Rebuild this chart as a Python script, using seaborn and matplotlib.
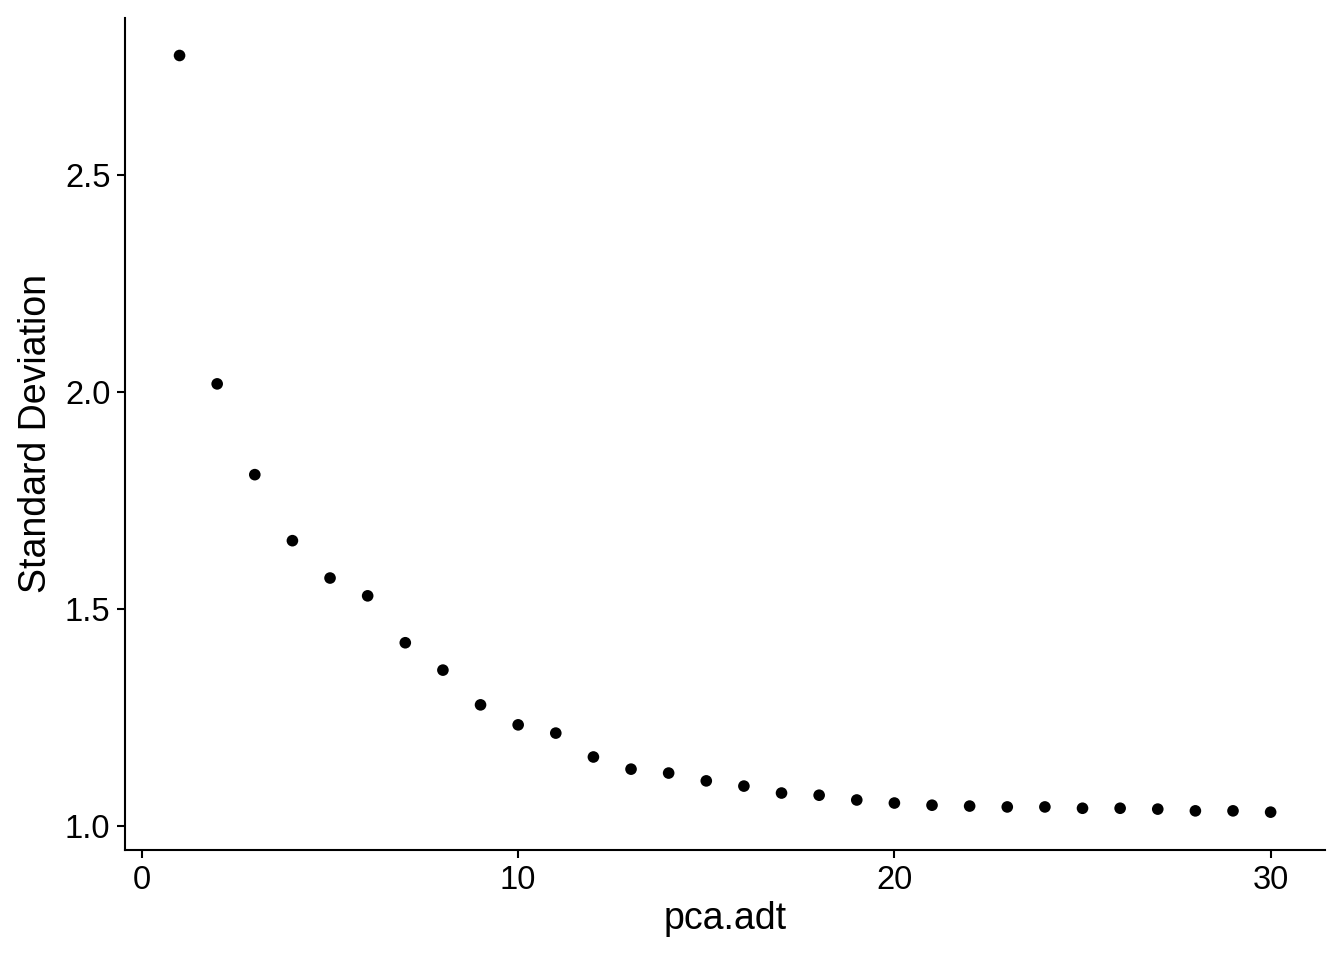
import numpy as np
import pandas as pd
import seaborn as sns
from matplotlib import pyplot as plt

# PC index and its standard deviation
pcs = list(range(1, 31))
stdev = [2.774, 2.018, 1.809, 1.657, 1.571, 1.530, 1.422, 1.359, 1.279, 1.233,
         1.214, 1.159, 1.131, 1.122, 1.104, 1.092, 1.076, 1.071, 1.060, 1.053,
         1.048, 1.046, 1.044, 1.044, 1.041, 1.041, 1.039, 1.035, 1.035, 1.032]
x_ticks = [0, 10, 20, 30]
y_ticks = [1.0, 1.5, 2.0, 2.5]

df = pd.DataFrame({'pca.adt': pcs, 'Standard Deviation': stdev})

sns.set_theme(style='ticks')
plt.rcParams['font.family'] = ['Liberation Sans', 'DejaVu Sans']

fig = plt.figure(figsize=(13.44, 9.6), dpi=100)
ax = fig.add_axes([0.093, 0.1146, 0.893, 0.867])

sns.scatterplot(data=df, x='pca.adt', y='Standard Deviation', ax=ax,
                color='black', s=70, edgecolor='none')

# ggplot-style 5% expansion
span_y = max(stdev) - min(stdev)
ax.set_xlim(1 - 0.05 * 29, 30 + 0.05 * 29)
ax.set_ylim(min(stdev) - 0.05 * span_y, max(stdev) + 0.05 * span_y)
ax.set_xticks(x_ticks)
ax.set_yticks(y_ticks)
ax.set_yticklabels(['%.1f' % v for v in y_ticks])

for side in ['top', 'right']:
    ax.spines[side].set_visible(False)
for side in ['left', 'bottom']:
    ax.spines[side].set_linewidth(1.5)
    ax.spines[side].set_color('black')
ax.tick_params(axis='both', length=5.5, width=1.5, color='black',
               labelsize=23.5, labelcolor='black', pad=5)
ax.set_xlabel('pca.adt', fontsize=27, color='black', labelpad=4)
ax.set_ylabel('Standard Deviation', fontsize=27, color='black', labelpad=8)

fig.savefig('out.png', dpi=100)
